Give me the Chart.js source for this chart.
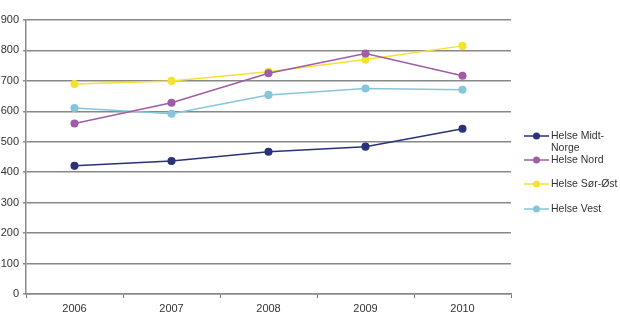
<!DOCTYPE html>
<html><head><meta charset="utf-8">
<script src="https://cdn.jsdelivr.net/npm/chart.js@4/dist/chart.umd.min.js"></script>
<style>html,body{margin:0;padding:0;background:#fff}#wrap{width:620px;height:329px;position:relative}</style>
</head><body><div id="wrap"><canvas id="c" width="620" height="329"></canvas></div>
<script>
const years = ['2006','2007','2008','2009','2010'];
const seriesNames = ['Helse Midt-Norge','Helse Nord','Helse Sør-Øst','Helse Vest'];
const legendLabels = [['Helse Midt-','Norge'],['Helse Nord'],['Helse Sør-Øst'],['Helse Vest']];
const midtNorge = [421, 437, 467, 484, 543];
const nord = [560, 628, 725, 790, 717];
const sorOst = [690, 700, 730, 770, 815];
const vest = [611, 592, 654, 675, 671];
const colors = ['#2a3278','#a05ca6','#f2e330','#85c6da'];
const values = [midtNorge, nord, sorOst, vest];

const legendPlugin = {
  id: 'sideLegend',
  afterDraw(chart) {
    const ctx = chart.ctx;
    const ys = [136, 160, 184, 209];
    ctx.save();
    ctx.font = '10.5px "Liberation Sans", Arial, sans-serif';
    ctx.textBaseline = 'middle';
    chart.data.datasets.forEach((ds, i) => {
      const y = ys[i];
      ctx.strokeStyle = ds.borderColor;
      ctx.lineWidth = 1.5;
      ctx.beginPath(); ctx.moveTo(524, y); ctx.lineTo(549, y); ctx.stroke();
      ctx.fillStyle = ds.backgroundColor;
      ctx.beginPath(); ctx.arc(536.5, y, 3.5, 0, Math.PI * 2); ctx.fill();
      ctx.fillStyle = '#333';
      legendLabels[i].forEach((t, k) => ctx.fillText(t, 551, y + k * 12));
    });
    ctx.restore();
  }
};

new Chart(document.getElementById('c'), {
  type: 'line',
  data: {
    labels: years,
    datasets: seriesNames.map((n, i) => ({
      label: n,
      data: values[i],
      borderColor: colors[i],
      backgroundColor: colors[i],
      borderWidth: 1.5,
      pointRadius: 3.3,
      pointHoverRadius: 3.3,
      tension: 0
    }))
  },
  options: {
    responsive: false,
    animation: false,
    events: [],
    layout: { padding: { top: 20, right: 109, left: 0, bottom: 0 } },
    plugins: { legend: { display: false }, tooltip: { enabled: false } },
    scales: {
      x: {
        offset: true,
        afterFit(s) { s.height = 35; },
        grid: { offset: true, drawOnChartArea: false, drawTicks: true, tickLength: 4, color: '#777', lineWidth: 1 },
        border: { color: '#888', width: 1.5 },
        ticks: { color: '#333', font: { family: '"Liberation Sans", Arial, sans-serif', size: 11 }, padding: 4 }
      },
      y: {
        min: 0, max: 900,
        afterFit(s) { s.width = 26; },
        ticks: { stepSize: 100, color: '#333', font: { family: '"Liberation Sans", Arial, sans-serif', size: 11 }, padding: 4 },
        grid: { color: '#888', lineWidth: 1.5, tickLength: 3 },
        border: { color: '#888', width: 1.5 }
      }
    }
  },
  plugins: [legendPlugin]
});
</script>
</body></html>
